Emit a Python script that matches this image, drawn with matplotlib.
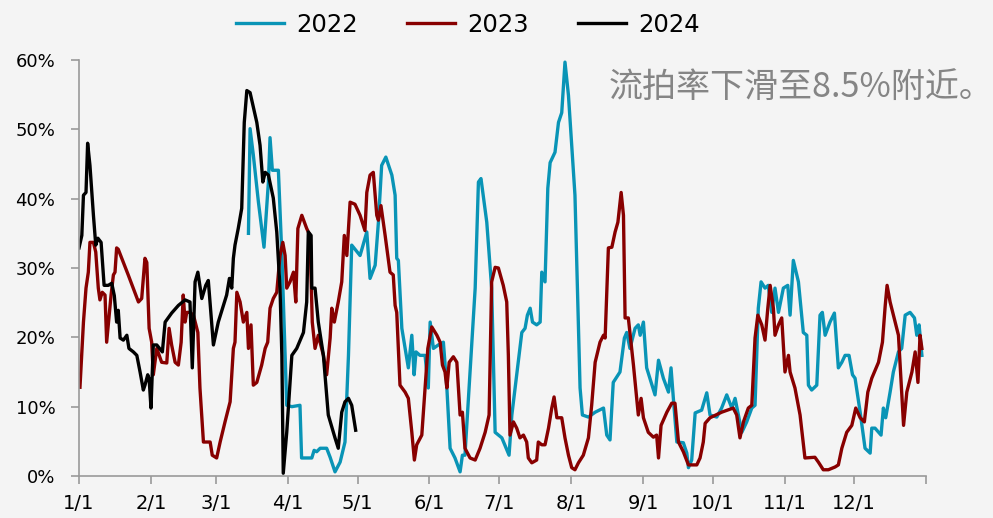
import matplotlib
matplotlib.use("Agg")
import matplotlib.pyplot as plt

# day of year (0 = 1/1) and auction failure rate (%)
days_2022 = [73.0, 73.7, 75.1, 77.3, 79.7, 81.6, 82.3, 83.3, 85.9, 87.4, 89.5, 91.7, 95.2, 95.9,
             100.3, 101.3, 102.4, 103.9, 106.7, 108.2, 110.3, 112.5, 114.6, 116.1, 117.5, 121.1,
             124.0, 125.4, 127.6, 129.0, 130.4, 132.2, 134.8, 136.2, 136.9, 137.6, 139.1, 141.9,
             143.4, 144.4, 145.2, 146.9, 149.1, 150.5, 151.3, 152.7, 154.8, 157.0, 158.5, 159.9,
             162.0, 164.2, 165.2, 166.3, 168.5, 170.7, 172.1, 173.2, 175.7, 177.8, 179.3, 182.2,
             185.3, 186.5, 188.6, 190.8, 192.2, 193.2, 194.4, 195.4, 197.2, 198.7, 199.4, 200.8,
             202.0, 203.0, 205.1, 206.6, 208.0, 209.4, 210.9, 213.7, 215.9, 216.9, 219.5, 222.4,
             226.0, 227.4, 228.8, 230.2, 233.1, 235.0, 236.0, 237.4, 239.6, 241.0, 241.8, 243.2,
             244.6, 248.2, 249.7, 251.8, 254.0, 255.1, 256.1, 257.6, 260.4, 261.9, 262.6, 264.0,
             265.5, 268.3, 270.5, 271.9, 274.8, 276.9, 279.1, 281.3, 282.7, 285.6, 287.7, 289.9,
             291.3, 292.7, 293.9, 295.6, 297.0, 298.5, 299.9, 301.4, 303.5, 305.4, 306.4, 307.8,
             310.0, 312.1, 313.6, 314.3, 315.7, 317.9, 319.3, 320.3, 321.5, 323.6, 325.5, 327.2,
             328.7, 330.1, 331.8, 333.3, 334.4, 336.6, 338.7, 340.9, 341.6, 343.0, 345.6, 346.6,
             347.6, 349.5, 350.9, 353.1, 354.5, 356.0, 358.1, 360.0, 361.0, 362.0, 363.2]
rate_2022 = [35.0, 50.1, 46.3, 39.5, 33.0, 42.4, 48.8, 44.1, 44.1, 31.8, 10.2, 10.0, 10.2, 2.6,
             2.6, 3.7, 3.5, 4.0, 4.0, 2.7, 0.6, 2.0, 4.9, 17.4, 33.3, 31.8,
             35.2, 28.5, 30.4, 36.6, 44.8, 46.0, 43.4, 40.5, 31.4, 31.1, 21.3, 15.6,
             20.3, 14.6, 17.9, 17.4, 17.4, 12.7, 22.2, 18.4, 18.9, 19.3, 12.7, 4.0,
             2.6, 0.6, 3.0, 3.0, 15.0, 27.1, 42.4, 42.9, 36.6, 27.1, 6.3, 5.5,
             3.0, 8.8, 14.6, 20.7, 21.3, 23.2, 24.2, 22.2, 21.8, 22.2, 29.4, 28.0,
             41.5, 45.2, 46.7, 51.0, 52.4, 59.7, 54.9, 40.5, 12.7, 8.8, 8.5, 9.2,
             9.8, 5.9, 5.2, 13.5, 15.0, 19.9, 20.7, 18.4, 21.3, 21.8, 20.3, 22.2,
             15.6, 11.7, 16.7, 14.1, 12.1, 15.6, 11.2, 4.9, 4.8, 3.3, 1.2, 2.3,
             9.1, 9.5, 12.0, 8.8, 8.5, 9.8, 11.7, 9.8, 11.2, 6.3, 7.8, 9.8,
             10.2, 24.2, 28.0, 27.1, 27.5, 23.6, 27.1, 23.6, 27.1, 27.5, 23.2, 31.1,
             28.0, 20.7, 20.3, 13.1, 12.4, 13.1, 23.2, 23.6, 20.3, 22.2, 23.5, 15.6,
             16.4, 17.4, 17.4, 14.6, 14.1, 9.2, 4.0, 3.3, 6.9, 6.9, 5.9, 9.8,
             8.4, 12.1, 15.0, 17.9, 18.4, 23.2, 23.6, 22.8, 20.3, 21.8, 17.4]

days_2023 = [0.4, 1.9, 3.0, 4.0, 4.7, 6.2, 7.2, 8.3, 9.0, 10.0, 11.2, 11.9, 12.6, 13.8, 14.8,
             15.5, 16.2, 16.9, 21.2, 25.6, 27.0, 28.4, 29.2, 30.2, 31.3, 32.0, 33.5, 35.6, 37.8,
             38.8, 39.9, 41.4, 42.8, 44.0, 44.9, 45.7, 46.4, 47.8, 49.3, 51.2, 52.1, 53.6, 56.5,
             57.4, 59.3, 60.8, 62.9, 65.1, 66.5, 67.2, 68.0, 69.4, 70.8, 72.3, 73.0, 74.1, 75.1,
             76.6, 78.7, 80.2, 81.3, 82.3, 83.7, 85.2, 86.6, 87.8, 88.8, 89.5, 90.9, 92.4, 93.4,
             94.3, 96.0, 98.1, 99.5, 100.5, 101.7, 103.1, 105.3, 106.7, 108.2, 108.9, 110.0, 111.7,
             113.2, 114.3, 115.4, 116.8, 118.9, 121.1, 123.2, 124.0, 125.4, 126.8, 128.3, 129.0,
             130.1, 131.9, 134.0, 135.4, 136.2, 136.9, 138.3, 140.5, 141.9, 143.4, 144.5, 145.5,
             147.7, 149.1, 150.3, 152.0, 154.2, 155.6, 156.6, 157.7, 158.5, 159.5, 161.3, 162.8,
             164.2, 165.2, 166.3, 168.5, 170.7, 172.8, 175.0, 176.7, 177.8, 179.3, 180.7, 182.8,
             184.3, 185.0, 185.7, 187.2, 188.6, 190.0, 191.5, 192.9, 193.6, 195.1, 197.2, 197.9,
             199.4, 200.8, 202.3, 203.7, 204.7, 205.9, 208.0, 209.4, 210.9, 212.3, 213.7, 215.2,
             217.3, 219.5, 220.9, 222.4, 224.5, 226.0, 226.7, 228.1, 229.6, 231.0, 232.2, 233.6,
             234.6, 235.3, 236.7, 238.9, 241.0, 242.2, 243.2, 245.3, 247.5, 248.9, 249.7, 250.8,
             253.3, 255.4, 256.8, 258.3, 260.4, 262.6, 266.2, 267.6, 269.0, 269.8, 271.9, 276.9,
             281.9, 283.4, 284.8, 286.3, 288.4, 289.9, 291.3, 292.5, 294.2, 295.6, 296.8, 297.8,
             299.2, 299.9, 301.4, 302.8, 304.2, 305.7, 306.4, 308.5, 310.7, 312.8, 317.1, 318.6,
             320.7, 322.9, 325.8, 327.2, 328.7, 330.8, 333.0, 334.7, 336.6, 338.4, 339.9, 341.6,
             344.5, 346.2, 347.4, 348.2, 349.5, 351.7, 353.1, 355.3, 356.7, 358.9, 360.3, 361.5,
             362.4, 363.2]
rate_2023 = [12.8, 22.2, 27.1, 29.4, 33.7, 33.7, 32.3, 27.1, 25.4, 26.5, 26.1, 19.3, 21.8, 26.1, 29.0,
             29.4, 32.9, 32.7, 29.0, 25.1, 25.6, 31.4, 30.8, 21.3, 19.3, 14.6, 18.4, 16.4, 16.3,
             21.3, 18.9, 16.4, 16.0, 19.3, 26.1, 22.2, 23.6, 23.6, 23.2, 20.7, 12.7, 4.9, 4.9,
             3.0, 2.6, 4.9, 7.8, 10.7, 18.4, 19.3, 26.5, 25.1, 22.2, 23.6, 18.4, 21.8, 13.1,
             13.5, 16.0, 18.4, 19.3, 24.2, 25.6, 26.5, 31.8, 33.7, 31.8, 27.1, 28.0, 29.4, 25.1,
             35.7, 37.6, 35.7, 34.7, 22.2, 18.4, 20.3, 17.4, 14.6, 19.9, 24.2, 22.2, 25.1,
             28.0, 34.7, 31.8, 39.5, 39.2, 37.6, 35.4, 40.9, 43.4, 43.8, 37.6, 36.9,
             39.0, 34.7, 29.4, 29.0, 24.6, 23.6, 13.1, 12.1, 11.2, 6.3, 2.3, 4.5,
             5.9, 12.7, 18.4, 21.5, 20.3, 19.3, 16.0, 15.0, 12.7, 16.4, 17.2, 16.4,
             8.8, 9.2, 4.0, 2.6, 2.3, 4.0, 6.3, 8.8, 28.0, 30.1, 30.0, 27.5,
             25.1, 17.4, 5.9, 7.8, 6.9, 5.5, 5.9, 4.9, 2.6, 1.9, 2.3, 4.9,
             4.5, 4.5, 6.9, 9.8, 11.4, 8.4, 8.4, 5.5, 3.0, 1.2, 0.9, 1.9,
             3.0, 5.5, 10.2, 16.4, 19.3, 20.3, 19.9, 32.9, 33.0, 35.2, 36.6, 40.9,
             37.6, 22.8, 22.8, 16.0, 8.8, 11.2, 8.4, 6.3, 5.6, 5.9, 2.6, 7.3,
             9.2, 10.5, 10.5, 4.9, 3.5, 1.6, 1.6, 2.6, 4.9, 7.6, 8.4, 9.2,
             9.8, 8.8, 5.5, 7.8, 9.8, 10.2, 19.9, 23.2, 21.8, 19.6, 24.2, 27.5,
             24.2, 20.3, 21.8, 22.8, 15.0, 17.4, 15.0, 12.7, 8.8, 2.6, 2.7, 2.0,
             0.9, 0.9, 1.3, 1.6, 4.0, 6.3, 7.3, 9.8, 8.4, 7.8, 12.1, 14.1,
             16.4, 19.3, 24.6, 27.5, 25.1, 22.2, 20.3, 7.3, 12.1, 15.0, 17.9, 13.5,
             20.3, 18.4]

days_2024 = [0.0, 1.2, 1.9, 3.0, 3.7, 4.7, 6.2, 7.2, 8.1, 9.5, 10.8, 12.6, 14.1, 15.2, 16.2,
             16.9, 17.7, 19.1, 20.6, 21.5, 23.4, 24.9, 26.3, 27.7, 28.4, 29.6, 30.2, 31.0, 32.0,
             33.5, 35.9, 37.1, 39.9, 42.8, 45.7, 47.8, 48.8, 50.0, 51.2, 52.9, 54.6, 55.7, 57.9,
             60.0, 63.6, 64.8, 65.8, 66.5, 67.2, 68.6, 70.1, 71.2, 72.3, 73.7, 76.6, 78.0, 79.2,
             80.2, 81.6, 83.7, 85.2, 86.6, 87.4, 88.0, 89.5, 91.7, 93.8, 96.7, 98.1, 98.8, 100.0,
             100.3, 101.7, 103.1, 105.3, 107.4, 110.3, 111.7, 113.2, 114.6, 116.1, 117.5, 119.2]
rate_2024 = [32.9, 34.7, 40.5, 40.9, 48.0, 44.8, 37.6, 33.3, 34.3, 33.7, 27.5, 27.5, 27.8, 26.0, 22.2,
             23.9, 19.9, 19.6, 20.3, 18.4, 17.9, 17.4, 15.0, 12.4, 13.1, 14.6, 14.0, 9.8, 18.9,
             18.9, 17.9, 22.2, 23.5, 24.6, 25.4, 25.1, 15.6, 28.0, 29.4, 25.6, 27.5, 28.2, 18.9,
             22.2, 26.1, 28.5, 27.1, 31.4, 33.3, 35.7, 38.6, 51.0, 55.6, 55.3, 51.0, 47.7, 42.4,
             43.8, 43.4, 40.1, 35.2, 27.1, 17.4, 0.4, 6.3, 17.4, 18.4, 20.7, 25.1, 35.2, 34.7,
             27.1, 27.1, 22.2, 17.4, 8.8, 5.5, 4.0, 9.2, 10.7, 11.2, 10.2, 6.6]

month_starts = [0, 31, 59, 90, 120, 151, 181, 212, 243, 273, 304, 334, 365]
month_labels = ["1/1", "2/1", "3/1", "4/1", "5/1", "6/1", "7/1", "8/1", "9/1",
                "10/1", "11/1", "12/1", ""]
y_ticks = [0, 10, 20, 30, 40, 50, 60]

bg = "#f4f4f4"
fig = plt.figure(figsize=(9.93, 5.18), dpi=100, facecolor=bg)
ax = fig.add_axes([0.0796, 0.0811, 0.853, 0.803], facecolor=bg)

l1, = ax.plot(days_2022, rate_2022, color="#0994b6", lw=2.4, label="2022")
l2, = ax.plot(days_2023, rate_2023, color="#880000", lw=2.4, label="2023")
l3, = ax.plot(days_2024, rate_2024, color="#000000", lw=2.4, label="2024")

ax.set_xlim(0, 365)
ax.set_ylim(0, 60)
ax.set_xticks(month_starts)
ax.set_xticklabels(month_labels, fontsize=14)
ax.set_yticks(y_ticks)
ax.set_yticklabels([f"{v}%" for v in y_ticks], fontsize=13)

for s in ["top", "right"]:
    ax.spines[s].set_visible(False)
for s in ["left", "bottom"]:
    ax.spines[s].set_color("#999999")
    ax.spines[s].set_linewidth(1.2)
ax.tick_params(axis="both", colors="#999999", labelcolor="black", length=6, width=1.2)
ax.tick_params(axis="x", pad=7)
ax.tick_params(axis="y", pad=11)

fig.legend(handles=[l1, l2, l3], loc="center", bbox_to_anchor=(0.471, 0.952), ncol=3,
           frameon=False, fontsize=17.5, handlelength=2.0, columnspacing=2.0, handletextpad=0.5)

fig.text(0.807, 0.832, "流拍率下滑至8.5%附近。", color="#858585", fontsize=24.5,
         ha="center", va="center", family=["Noto Sans CJK SC", "DejaVu Sans"])

fig.savefig("out.png", dpi=100, facecolor=bg)
